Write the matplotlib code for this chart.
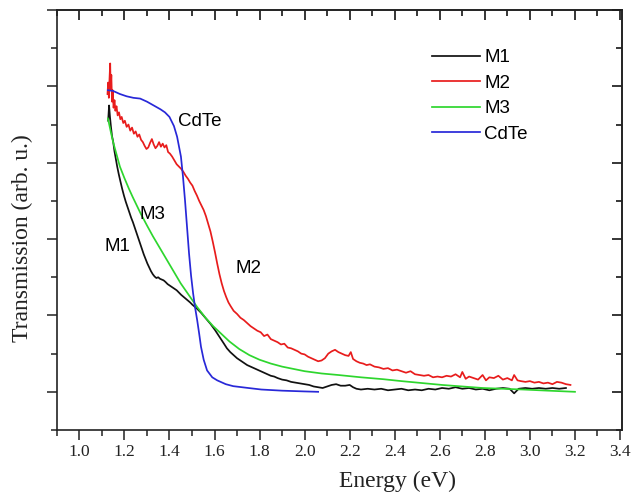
import matplotlib
matplotlib.use("Agg")
import matplotlib.pyplot as plt
from matplotlib.ticker import MultipleLocator, NullFormatter

# --- data (energy in eV, transmission in arb. units) ---
m1_x = [1.128, 1.132, 1.136, 1.140, 1.145, 1.150, 1.156, 1.162, 1.168, 1.175,
        1.182, 1.190, 1.198, 1.206, 1.214, 1.222, 1.230, 1.238, 1.246, 1.254,
        1.262, 1.270, 1.278, 1.286, 1.294, 1.302, 1.310, 1.318, 1.326, 1.334,
        1.342, 1.350, 1.358, 1.366, 1.374, 1.382, 1.392, 1.402, 1.412, 1.422,
        1.432, 1.452, 1.472, 1.492, 1.502, 1.522, 1.542,
        1.562, 1.582, 1.602, 1.622, 1.642, 1.655, 1.670, 1.685, 1.700, 1.715,
        1.730, 1.745, 1.760, 1.775, 1.790, 1.805, 1.820, 1.835, 1.850, 1.865,
        1.880, 1.900, 1.920, 1.940, 1.960, 1.980, 2.000, 2.020, 2.040, 2.060,
        2.080, 2.100, 2.120, 2.140, 2.160, 2.180, 2.200, 2.215, 2.230, 2.250,
        2.280, 2.310, 2.340, 2.370, 2.400, 2.430, 2.460, 2.490, 2.520, 2.550,
        2.580, 2.610, 2.640, 2.670, 2.700, 2.730, 2.760, 2.790, 2.820, 2.850,
        2.880, 2.910, 2.930, 2.950, 2.980, 3.010, 3.040, 3.070, 3.100, 3.130,
        3.160]
m1_y = [3.55, 3.75, 3.60, 3.48, 3.35, 3.28, 3.15, 3.05, 2.95, 2.85,
        2.76, 2.66, 2.57, 2.49, 2.42, 2.35, 2.28, 2.22, 2.15, 2.08,
        2.01, 1.94, 1.87, 1.80, 1.74, 1.68, 1.63, 1.58, 1.54, 1.51,
        1.49, 1.50, 1.48, 1.47, 1.46, 1.44, 1.41, 1.39, 1.37, 1.35,
        1.33, 1.27, 1.22, 1.17, 1.14, 1.09, 1.03,
        0.96, 0.89, 0.81, 0.72, 0.63, 0.57, 0.52, 0.48, 0.44, 0.41,
        0.38, 0.35, 0.33, 0.31, 0.29, 0.27, 0.25, 0.23, 0.21, 0.20,
        0.18, 0.16, 0.15, 0.13, 0.12, 0.11, 0.10, 0.09, 0.07, 0.06,
        0.05, 0.07, 0.09, 0.10, 0.08, 0.08, 0.09, 0.06, 0.04, 0.03,
        0.04, 0.03, 0.04, 0.02, 0.03, 0.04, 0.02, 0.03, 0.02, 0.04,
        0.03, 0.05, 0.04, 0.06, 0.04, 0.05, 0.03, 0.04, 0.02, 0.04,
        0.05, 0.04, -0.02, 0.04, 0.05, 0.04, 0.05, 0.04, 0.05, 0.04,
        0.05]

m2_x = [1.125, 1.128, 1.131, 1.134, 1.137, 1.139, 1.142, 1.145, 1.148, 1.152,
        1.156, 1.160, 1.165, 1.170, 1.176, 1.182, 1.188, 1.195, 1.202, 1.210,
        1.218, 1.226, 1.234, 1.242, 1.250, 1.258, 1.266, 1.274, 1.282, 1.290,
        1.298, 1.306, 1.314, 1.322, 1.330, 1.338, 1.346, 1.354, 1.362, 1.370,
        1.378, 1.386, 1.394, 1.402, 1.412, 1.422, 1.432, 1.442, 1.452, 1.462,
        1.472, 1.482, 1.492, 1.502, 1.512, 1.522, 1.532, 1.542, 1.552, 1.562,
        1.572, 1.582, 1.592, 1.602, 1.612, 1.622, 1.632, 1.642, 1.652, 1.662,
        1.672, 1.685, 1.700, 1.715, 1.730, 1.745, 1.760, 1.775, 1.790, 1.805,
        1.820, 1.835, 1.850, 1.865, 1.880, 1.895, 1.910, 1.925, 1.940, 1.955,
        1.970, 1.985, 2.000, 2.015, 2.030, 2.045, 2.060, 2.075, 2.090, 2.105,
        2.120, 2.135, 2.150, 2.165, 2.180, 2.195, 2.205, 2.215, 2.230, 2.245,
        2.260, 2.275, 2.290, 2.310, 2.330, 2.350, 2.370, 2.390, 2.410, 2.430,
        2.450, 2.470, 2.490, 2.510, 2.530, 2.550, 2.570, 2.590, 2.610, 2.630,
        2.650, 2.670, 2.690, 2.700, 2.715, 2.730, 2.750, 2.770, 2.790, 2.805,
        2.820, 2.840, 2.860, 2.880, 2.900, 2.920, 2.930, 2.945, 2.960, 2.980,
        3.000, 3.020, 3.040, 3.060, 3.080, 3.100, 3.120, 3.140, 3.160, 3.180]
m2_y = [3.90, 4.05, 3.85, 4.10, 4.30, 3.95, 4.15, 3.80, 3.95, 3.72,
        3.82, 3.68, 3.74, 3.62, 3.66, 3.57, 3.60, 3.52, 3.55, 3.47,
        3.50, 3.42, 3.46, 3.38, 3.41, 3.34, 3.37, 3.30, 3.27, 3.22,
        3.18, 3.20, 3.26, 3.31, 3.24, 3.19, 3.22, 3.27, 3.21, 3.25,
        3.20, 3.23, 3.14, 3.12, 3.08, 3.03, 2.98, 2.95, 2.92, 2.88,
        2.83, 2.79, 2.74, 2.70, 2.63, 2.57, 2.50, 2.44, 2.38, 2.30,
        2.20, 2.10, 1.97, 1.83, 1.68, 1.54, 1.42, 1.32, 1.24, 1.17,
        1.12, 1.06, 1.02, 0.97, 0.94, 0.90, 0.86, 0.83, 0.80, 0.78,
        0.73, 0.75, 0.69, 0.67, 0.65, 0.62, 0.63, 0.58, 0.57, 0.55,
        0.53, 0.50, 0.49, 0.46, 0.44, 0.42, 0.40, 0.41, 0.44, 0.50,
        0.53, 0.55, 0.52, 0.50, 0.48, 0.47, 0.52, 0.43, 0.40, 0.38,
        0.37, 0.35, 0.36, 0.33, 0.32, 0.30, 0.31, 0.28, 0.29, 0.27,
        0.25, 0.27, 0.23, 0.22, 0.21, 0.22, 0.19, 0.20, 0.19, 0.21,
        0.20, 0.23, 0.19, 0.26, 0.17, 0.20, 0.18, 0.16, 0.22, 0.15,
        0.19, 0.18, 0.21, 0.16, 0.18, 0.15, 0.22, 0.15, 0.14, 0.13,
        0.14, 0.12, 0.13, 0.11, 0.12, 0.10, 0.13, 0.12, 0.10, 0.09]

m3_x = [1.127, 1.140, 1.150, 1.166, 1.180, 1.200, 1.220, 1.237, 1.255, 1.273,
        1.300, 1.326, 1.350, 1.380, 1.410, 1.450, 1.490, 1.523, 1.560, 1.594,
        1.630, 1.666, 1.710, 1.755, 1.800, 1.850, 1.900, 1.950, 2.000, 2.076,
        2.150, 2.250, 2.350, 2.430, 2.520, 2.610, 2.700, 2.790, 2.880, 2.970,
        3.080, 3.200]
m3_y = [3.58, 3.40, 3.27, 3.10, 2.95, 2.80, 2.66, 2.55, 2.44, 2.33,
        2.18, 2.04, 1.92, 1.77, 1.62, 1.42, 1.25, 1.11, 0.97, 0.86,
        0.76, 0.66, 0.56, 0.48, 0.42, 0.37, 0.33, 0.30, 0.27, 0.24,
        0.22, 0.19, 0.165, 0.14, 0.115, 0.09, 0.07, 0.05, 0.04, 0.03,
        0.015, 0.0]

cdte_x = [1.127, 1.150, 1.180, 1.210, 1.240, 1.270, 1.300, 1.330, 1.360, 1.380,
          1.400, 1.420, 1.434, 1.451, 1.460, 1.469, 1.478, 1.487, 1.496, 1.505,
          1.514, 1.523, 1.532, 1.540, 1.552, 1.567, 1.590, 1.612, 1.650, 1.683,
          1.750, 1.808, 1.900, 2.000, 2.060]
cdte_y = [3.95, 3.94, 3.90, 3.87, 3.85, 3.84, 3.80, 3.75, 3.70, 3.66,
          3.60, 3.48, 3.34, 3.08, 2.82, 2.51, 2.16, 1.81, 1.52, 1.29,
          1.10, 0.94, 0.76, 0.59, 0.42, 0.28, 0.19, 0.15, 0.10, 0.074,
          0.05, 0.03, 0.015, 0.005, 0.0]

labels = ["M1", "M2", "M3", "CdTe"]
colors = ["#111111", "#e81c1c", "#2ed62e", "#2828d8"]

serif = "Liberation Serif"
sans = "Liberation Sans"

fig = plt.figure(figsize=(6.34, 4.93), dpi=100)
ax = fig.add_axes([0.0896, 0.1278, 0.8919, 0.8519])

for xs, ys, lab, c in zip([m1_x, m2_x, m3_x, cdte_x], [m1_y, m2_y, m3_y, cdte_y], labels, colors):
    ax.plot(xs, ys, color=c, lw=1.25, label=lab)

ax.set_xlim(0.9, 3.41)
ax.set_ylim(-0.5, 5.0)

ax.xaxis.set_minor_locator(MultipleLocator(0.1))
ax.yaxis.set_major_locator(MultipleLocator(1.0))
ax.yaxis.set_minor_locator(MultipleLocator(0.5))
ax.yaxis.set_major_formatter(NullFormatter())
ax.set_xticks([1.0, 1.2, 1.4, 1.6, 1.8, 2.0, 2.2, 2.4, 2.6, 2.8, 3.0, 3.2, 3.4])
ax.set_xticklabels(["1.0", "1.2", "1.4", "1.6", "1.8", "2.0", "2.2", "2.4",
                    "2.6", "2.8", "3.0", "3.2", "3.4"], fontfamily=serif, fontsize=12.5)

ax.tick_params(which="major", direction="out", length=7, width=1.1, pad=3, colors="#222222")
ax.tick_params(which="minor", direction="out", length=4, width=1.1, colors="#222222")

top = ax.secondary_xaxis("top")
top.xaxis.set_major_locator(MultipleLocator(0.2))
top.xaxis.set_minor_locator(MultipleLocator(0.1))
top.tick_params(which="major", direction="in", length=7, width=1.1, labeltop=False)
top.tick_params(which="minor", direction="in", length=4, width=1.1)
right = ax.secondary_yaxis("right")
right.yaxis.set_major_locator(MultipleLocator(1.0))
right.yaxis.set_minor_locator(MultipleLocator(0.5))
right.tick_params(which="major", direction="in", length=7, width=1.1, labelright=False)
right.tick_params(which="minor", direction="in", length=4, width=1.1)
for axis in (ax, top, right):
    for s in axis.spines.values():
        s.set_linewidth(1.2)
        s.set_color("#222222")

ax.set_xlabel("Energy (eV)", fontfamily=serif, fontsize=17, color="#222222")
ax.xaxis.set_label_coords(0.603, -0.097)
ax.set_ylabel("Transmission (arb. u.)", fontfamily=serif, fontsize=17, color="#222222")
ax.yaxis.set_label_coords(-0.042, 0.456)

ax.text(1.439, 3.54, "CdTe", fontfamily=sans, fontsize=13.5, va="center", ha="left")
ax.text(1.265, 2.32, "M3", fontfamily=sans, fontsize=13.5, va="center", ha="left")
ax.text(1.11, 1.90, "M1", fontfamily=sans, fontsize=13.5, va="center", ha="left")
ax.text(1.693, 1.62, "M2", fontfamily=sans, fontsize=13.5, va="center", ha="left")

ax.legend(loc="upper left", bbox_to_anchor=(0.6635, 0.907), frameon=False,
          borderpad=0, borderaxespad=0, handlelength=2.55, handletextpad=0.25,
          labelspacing=0.45, prop={"family": sans, "size": 13.5})

fig.savefig("out.png", dpi=100)
